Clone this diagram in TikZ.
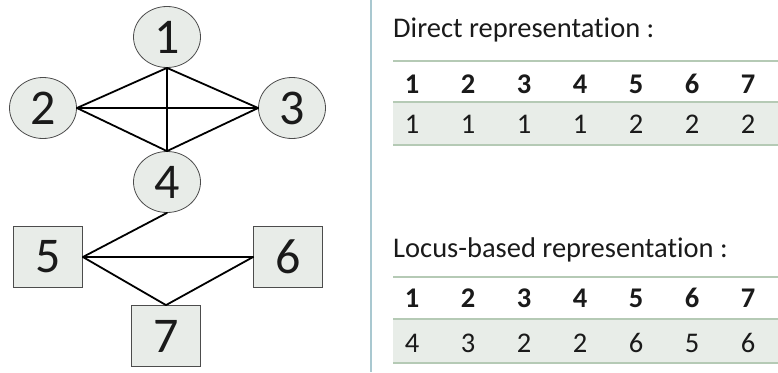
\documentclass[tikz,border=0pt]{standalone}
\usepackage{fontspec}
\setmainfont{Carlito}[Ligatures=NoCommon]
\usepackage{xcolor}
\usepackage{tikz}
\usetikzlibrary{shapes.geometric,positioning}
\definecolor{nodefill}{HTML}{E8ECE8}
\definecolor{rowfill}{HTML}{E8EDE8}
\definecolor{rulec}{HTML}{B5CAB5}
\definecolor{sepc}{HTML}{A9C8D0}
\definecolor{ink}{HTML}{1A1A1A}
\tikzset{
  vert/.style={ellipse, draw=black!70, fill=nodefill, line width=0.8pt, minimum width=67pt, minimum height=61pt, inner sep=0pt, text=ink, font=\fontsize{50}{54}\selectfont},
  boxv/.style={rectangle, draw=black!70, fill=nodefill, line width=0.8pt, minimum width=69pt, minimum height=61pt, inner sep=0pt, text=ink, font=\fontsize{50}{54}\selectfont},
  link/.style={draw=black, line width=1.8pt, line cap=round},
  rowrule/.style={draw=rulec, line width=1.4pt},
  title/.style={anchor=base west, inner sep=0pt, text=ink, font=\fontsize{28.5}{32}\selectfont},
  cell/.style={anchor=base, inner sep=0pt, text=ink, font=\fontsize{28.5}{32}\selectfont},
  head/.style={cell, font=\fontsize{28.5}{32}\selectfont\bfseries},
}
\begin{document}
\begin{tikzpicture}[x=1pt,y=-1pt]
  \useasboundingbox (0,0) rectangle (778,372);
  % graph
  \node[vert] (v1) at (167,37) {1};
  \node[vert] (v2) at (43,108) {2};
  \node[vert] (v3) at (292,108) {3};
  \node[vert] (v4) at (167,182) {4};
  \node[boxv] (v5) at (48,257) {5};
  \node[boxv] (v6) at (288,257) {6};
  \node[boxv] (v7) at (166,336) {7};
  \draw[link] (v1.south)--(v2.east) (v1.south)--(v3.west) (v1.south)--(v4.north);
  \draw[link] (v2.east)--(v3.west) (v2.east)--(v4.north) (v3.west)--(v4.north);
  \draw[link] (v4.south)--(v5.east) (v5.east)--(v6.west);
  \draw[link] (v5.east)--(v7.north) (v6.west)--(v7.north);
  % separator
  \coordinate (sT) at (371,0);
  \coordinate (sB) at (371,372);
  \draw[draw=sepc, line width=2pt] (sT)--(sB);
  % direct representation
  \node[title] (dt) at (393,37) {Direct representation :};
  \fill[rowfill] (393,102) rectangle (778,145);
  \draw[rowrule] (393,61)--(778,61) (393,102)--(778,102) (393,145)--(778,145);
  \foreach \i/\v in {1/1,2/1,3/1,4/1,5/2,6/2,7/2} {
    \node[head] (dh\i) at ({412+(\i-1)*56},93) {\i};
    \node[cell] (dv\i) at ({412+(\i-1)*56},133) {\v};
  }
  % locus-based representation
  \node[title] (lt) at (393,257) {Locus-based representation :};
  \fill[rowfill] (393,319) rectangle (778,363);
  \draw[rowrule] (393,277)--(778,277) (393,319)--(778,319) (393,363)--(778,363);
  \foreach \i/\v in {1/4,2/3,3/2,4/2,5/6,6/5,7/6} {
    \node[head] (lh\i) at ({412+(\i-1)*56},307) {\i};
    \node[cell] (lv\i) at ({412+(\i-1)*56},352) {\v};
  }
\end{tikzpicture}
\end{document}
